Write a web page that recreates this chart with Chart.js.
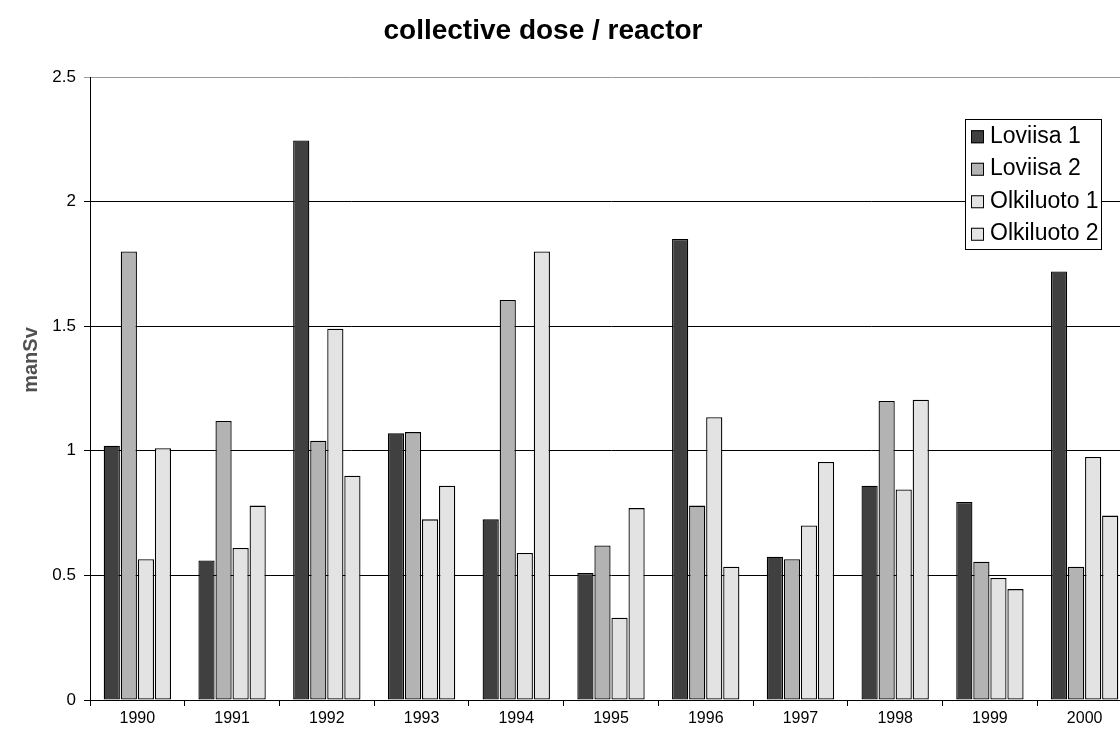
<!DOCTYPE html>
<html>
<head>
<meta charset="utf-8">
<script src="https://cdn.jsdelivr.net/npm/chart.js@4/dist/chart.umd.min.js"></script>
<style>
  html, body { margin: 0; padding: 0; background: #fff; overflow: hidden; }
  #wrap { width: 1120px; height: 731px; overflow: hidden; }
</style>
</head>
<body>
<div id="wrap"><canvas id="doseChart" width="1135" height="731"></canvas></div>
<script>
const years = ["1990", "1991", "1992", "1993", "1994", "1995", "1996", "1997", "1998", "1999", "2000"];
const loviisa1 = [1.02, 0.56, 2.245, 1.07, 0.725, 0.51, 1.85, 0.575, 0.86, 0.795, 1.72];
const loviisa2 = [1.80, 1.12, 1.04, 1.075, 1.605, 0.62, 0.78, 0.565, 1.20, 0.555, 0.535];
const olkiluoto1 = [0.565, 0.61, 1.49, 0.725, 0.59, 0.33, 1.135, 0.70, 0.845, 0.49, 0.975];
const olkiluoto2 = [1.01, 0.78, 0.90, 0.86, 1.80, 0.77, 0.535, 0.955, 1.205, 0.445, 0.74];
const yMin = 0, yMax = 2.5, yStep = 0.5;

const FONT = "'Liberation Sans', Arial, sans-serif";

// title, axis title and the boxed legend, drawn by hand like the excel sheet
const sheetDecor = {
  id: "sheetDecor",
  afterDraw(chart) {
    const ctx = chart.ctx;
    ctx.save();
    ctx.fillStyle = "#000";
    ctx.font = "bold 28px " + FONT;
    ctx.textAlign = "center";
    ctx.textBaseline = "middle";
    ctx.fillText("collective dose / reactor", 543, 31);

    const x = 965, y = 119, w = 136, rowH = 32.5;
    const sets = chart.data.datasets;
    ctx.fillStyle = "#fff";
    ctx.fillRect(x, y, w, rowH * sets.length);
    ctx.strokeStyle = "#000";
    ctx.lineWidth = 1;
    ctx.strokeRect(x + 0.5, y + 0.5, w, rowH * sets.length);
    ctx.font = "23px " + FONT;
    ctx.textAlign = "left";
    sets.forEach((ds, i) => {
      const cy = y + rowH * i + rowH / 2 + 1;
      ctx.fillStyle = ds.backgroundColor;
      ctx.fillRect(971, cy - 6, 13, 13);
      ctx.strokeRect(971.5, cy - 5.5, 12, 12);
      ctx.fillStyle = "#000";
      ctx.fillText(ds.label, 990, cy);
    });

    ctx.translate(31, 360);
    ctx.rotate(-Math.PI / 2);
    ctx.font = "bold 20px " + FONT;
    ctx.fillStyle = "#505050";
    ctx.textAlign = "center";
    ctx.fillText("manSv", 0, 0);
    ctx.restore();
  }
};

function series(label, data, color) {
  return {
    label, data,
    backgroundColor: color,
    borderColor: "#000",
    borderWidth: 1.3,
    borderSkipped: false,
    categoryPercentage: 0.72,
    barPercentage: 0.95
  };
}

new Chart(document.getElementById("doseChart"), {
  type: "bar",
  data: {
    labels: years,
    datasets: [
      series("Loviisa 1", loviisa1, "#404040"),
      series("Loviisa 2", loviisa2, "#b3b3b3"),
      series("Olkiluoto 1", olkiluoto1, "#e3e3e3"),
      series("Olkiluoto 2", olkiluoto2, "#e3e3e3")
    ]
  },
  options: {
    responsive: false,
    animation: false,
    layout: { padding: { left: 0, right: 3, top: 77, bottom: 0 } },
    plugins: {
      legend: { display: false },
      tooltip: { enabled: false },
      title: { display: false }
    },
    scales: {
      x: {
        afterFit(scale) { scale.height = 31; },
        grid: { offset: true, drawOnChartArea: false, color: "#000", tickLength: 6 },
        border: { color: "#000" },
        ticks: { color: "#000", font: { family: FONT, size: 16 }, padding: 3, maxRotation: 0 }
      },
      y: {
        min: yMin,
        max: yMax,
        afterFit(scale) { scale.width = 90; },
        grid: {
          color: c => (c.tick && c.tick.value === yMax) ? "#999" : "#000",
          tickLength: 6
        },
        border: { color: "#000" },
        ticks: {
          stepSize: yStep,
          color: "#000",
          font: { family: FONT, size: 17 },
          padding: 8,
          callback: v => String(v)
        }
      }
    }
  },
  plugins: [sheetDecor]
});
</script>
</body>
</html>
